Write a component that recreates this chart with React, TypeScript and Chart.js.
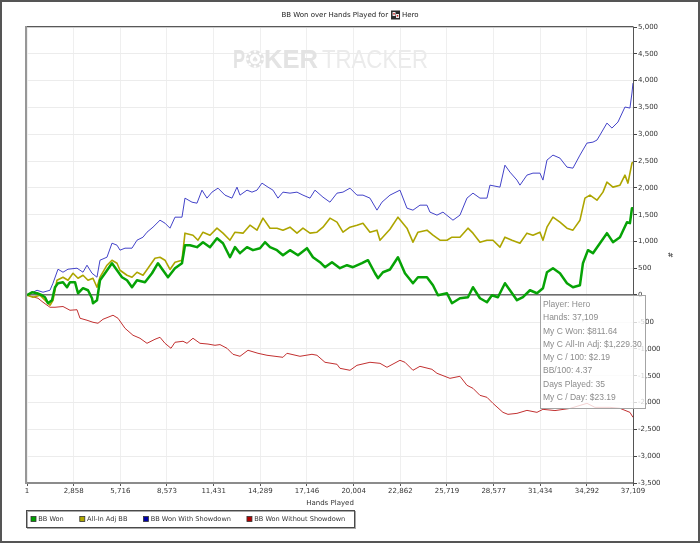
import { useEffect, useRef } from "react";
import { Chart, registerables } from "chart.js";

Chart.register(...registerables);

const FONT = "DejaVu Sans";

const chartTitle = "BB Won over Hands Played for";
const playerName = "Hero";
const xAxisTitle = "Hands Played";
const yAxisTitle = "#";

const xTickValues = [1, 2858, 5716, 8573, 11431, 14289, 17146, 20004, 22862, 25719, 28577, 31434, 34292, 37109];
const yMin = -3500;
const yMax = 5000;
const yStep = 500;

const seriesLabels = ["BB Won", "All-In Adj BB", "BB Won With Showdown", "BB Won Without Showdown"];
const seriesColors = ["#06a306", "#ada500", "#4343c9", "#c23030"];
const legendColors = ["#00a000", "#b0a800", "#0000a8", "#b00000"];
const seriesWidths = [2.5, 1.6, 1, 1];

const bbWonHands = [1, 307, 613, 919, 1103, 1287, 1532, 1715, 1899, 2205, 2450, 2634, 2940, 3124, 3430, 3736, 3981, 4042, 4287, 4471, 4777, 5205, 5512, 5818, 6124, 6430, 6737, 7226, 7655, 8022, 8328, 8634, 9063, 9492, 9675, 9981, 10410, 10777, 11206, 11635, 12002, 12431, 12737, 13043, 13472, 13839, 14267, 14574, 14880, 15308, 15675, 16104, 16594, 17145, 17512, 17941, 18247, 18676, 19165, 19594, 19961, 20512, 20880, 21309, 21492, 21798, 22227, 22717, 23145, 23635, 23941, 24492, 24860, 25166, 25717, 26023, 26513, 27003, 27309, 27738, 28166, 28472, 28839, 29268, 29574, 30003, 30370, 30799, 31228, 31595, 31840, 32208, 32636, 33065, 33432, 33861, 34044, 34351, 34657, 35085, 35514, 35881, 36310, 36739, 36922, 37045, 37109];
const bbWonValues = [0, 56, 37, 0, -37, -149, -93, 149, 224, 243, 149, 243, 243, 37, 131, 93, -56, -149, -93, 280, 410, 597, 466, 336, 280, 149, 280, 243, 410, 597, 466, 336, 504, 597, 933, 933, 896, 989, 896, 1063, 970, 709, 896, 784, 896, 840, 877, 989, 896, 840, 746, 840, 746, 877, 709, 616, 522, 616, 504, 560, 522, 597, 653, 410, 317, 429, 480, 709, 410, 224, 336, 336, 187, 0, 37, -149, -56, -37, 149, -56, -131, 0, -37, 224, 93, -93, -37, 93, 37, 131, 429, 504, 410, 224, 149, 187, 597, 840, 784, 970, 1157, 989, 1082, 1362, 1343, 1623, 1623];

const allInHands = [1, 368, 797, 1103, 1409, 1593, 1838, 2205, 2511, 2818, 3124, 3430, 3736, 4042, 4287, 4471, 4899, 5205, 5512, 5696, 6124, 6430, 6737, 7104, 7410, 7838, 8145, 8451, 8757, 9063, 9492, 9675, 10165, 10471, 10777, 11206, 11635, 12002, 12431, 12737, 13227, 13655, 14084, 14451, 14880, 15308, 15675, 16104, 16533, 16900, 17329, 17757, 18125, 18553, 18982, 19349, 19778, 20206, 20574, 21002, 21431, 21615, 22227, 22717, 23268, 23635, 23941, 24492, 24860, 25288, 25717, 26023, 26513, 27003, 27309, 27738, 28166, 28533, 28962, 29268, 29697, 30187, 30615, 30983, 31411, 31595, 31840, 32208, 32636, 33065, 33432, 33861, 34167, 34473, 34902, 35269, 35514, 35881, 36310, 36616, 36800, 37045, 37109];
const allInValues = [0, -37, 0, -93, -187, -93, 280, 336, 280, 410, 317, 373, 280, 317, 149, 336, 560, 653, 597, 466, 373, 336, 429, 373, 504, 690, 709, 653, 480, 616, 653, 1157, 1119, 1026, 1175, 1119, 1250, 1157, 1026, 1175, 1157, 1306, 1213, 1437, 1250, 1250, 1213, 1269, 1157, 1250, 1157, 1175, 1269, 1437, 1362, 1175, 1269, 1306, 1343, 1175, 1213, 1026, 1230, 1455, 1250, 989, 1175, 1213, 1119, 1026, 1026, 1082, 1082, 1250, 1157, 989, 1026, 1026, 896, 1082, 1026, 970, 1157, 1119, 1175, 1026, 1269, 1455, 1362, 1250, 1213, 1399, 1810, 1866, 1772, 1922, 2108, 2015, 2052, 2239, 2090, 2463, 2481];

const showdownHands = [1, 613, 981, 1409, 1593, 1899, 2205, 2511, 3063, 3430, 3675, 3981, 4287, 4471, 4899, 5205, 5512, 5696, 6002, 6430, 6737, 7104, 7349, 7716, 8145, 8451, 8757, 9063, 9492, 9675, 10104, 10410, 10716, 11022, 11329, 11696, 12124, 12553, 12859, 13043, 13472, 13778, 14084, 14390, 14757, 15063, 15369, 15675, 16104, 16533, 16900, 17329, 17635, 18125, 18553, 18982, 19349, 19778, 20206, 20574, 21002, 21431, 21737, 22227, 22839, 23268, 23635, 24064, 24492, 24676, 25105, 25472, 26084, 26513, 26942, 27309, 27738, 28166, 28350, 28962, 29268, 29574, 30003, 30187, 30615, 30983, 31411, 31595, 31840, 32208, 32636, 33065, 33432, 33861, 34289, 34657, 34902, 35085, 35514, 35820, 36188, 36616, 36922, 37045, 37109];
const showdownValues = [0, 93, 56, 93, 224, 485, 429, 485, 504, 429, 560, 410, 336, 653, 709, 970, 933, 840, 877, 877, 1026, 1082, 1175, 1269, 1399, 1343, 1250, 1455, 1455, 1810, 1735, 1716, 1959, 1810, 1922, 1996, 1866, 1810, 2015, 1866, 1959, 1922, 1959, 2090, 2015, 1959, 1810, 1922, 1903, 1922, 1866, 1810, 1959, 1828, 1735, 1903, 1922, 1996, 1866, 1866, 1810, 1586, 1735, 1866, 1959, 1623, 1586, 1679, 1679, 1549, 1493, 1549, 1399, 1493, 1810, 1903, 1810, 1810, 2052, 2015, 2425, 2295, 2146, 2052, 2239, 2276, 2276, 2146, 2519, 2612, 2556, 2388, 2369, 2612, 2836, 2854, 2892, 2985, 3209, 3116, 3228, 3508, 3489, 3769, 3955];

const noShowdownHands = [1, 674, 981, 1409, 1715, 2205, 2634, 3063, 3246, 3675, 4042, 4348, 4654, 5267, 5573, 6002, 6491, 6920, 7349, 7838, 8145, 8451, 8818, 9063, 9553, 9798, 10165, 10594, 11084, 11512, 11818, 12247, 12614, 13043, 13533, 14145, 14696, 15675, 15920, 16716, 17451, 17757, 18247, 18982, 19165, 19778, 20206, 21002, 21615, 22043, 22839, 23145, 23635, 24064, 24798, 25105, 25901, 26513, 26942, 27309, 27738, 28166, 28533, 29145, 29452, 30003, 30615, 31228, 31595, 32330, 33248, 34289, 34779, 35698, 36310, 36922, 37109];
const noShowdownValues = [0, -56, -131, -224, -224, -210, -280, -270, -429, -466, -504, -522, -448, -373, -429, -616, -746, -802, -896, -821, -784, -896, -989, -877, -858, -896, -802, -896, -910, -933, -920, -989, -1101, -1138, -1026, -1082, -1119, -1157, -1082, -1138, -1101, -1119, -1250, -1287, -1362, -1399, -1306, -1250, -1269, -1343, -1213, -1250, -1399, -1325, -1381, -1455, -1549, -1511, -1679, -1735, -1866, -1903, -2015, -2183, -2220, -2202, -2146, -2183, -2127, -2150, -2110, -2015, -2090, -2090, -2108, -2183, -2276];

const tooltipLines = [
  "Player: Hero",
  "Hands: 37,109",
  "My C Won: $811.64",
  "My C All-In Adj: $1,229.30",
  "My C / 100: $2.19",
  "BB/100: 4.37",
  "Days Played: 35",
  "My C / Day: $23.19",
];

function toPoints(h: number[], v: number[]) {
  const n = Math.min(h.length, v.length);
  const out: { x: number; y: number }[] = [];
  for (let i = 0; i < n; i++) out.push({ x: h[i], y: v[i] });
  return out;
}

function fmt(v: number | string) {
  return Number(v).toLocaleString("en-US");
}

function drawScaledText(ctx: CanvasRenderingContext2D, text: string, x: number, baseline: number, targetWidth: number) {
  const w = ctx.measureText(text).width;
  ctx.save();
  ctx.translate(x, baseline);
  ctx.scale(targetWidth / w, 1);
  ctx.fillText(text, 0, 0);
  ctx.restore();
}

const decorPlugin = {
  id: "decor",
  beforeDraw(chart: any) {
    const ctx: CanvasRenderingContext2D = chart.ctx;
    ctx.save();
    ctx.fillStyle = "#ffffff";
    ctx.fillRect(0, 0, chart.width, chart.height);
    ctx.restore();
  },
  beforeDatasetsDraw(chart: any) {
    const ctx: CanvasRenderingContext2D = chart.ctx;
    ctx.save();
    ctx.textBaseline = "alphabetic";
    ctx.textAlign = "left";
    const base = 68;
    ctx.fillStyle = "#e3e3e3";
    ctx.font = `bold 25px "Liberation Sans"`;
    drawScaledText(ctx, "P", 233, base, 12);
    const cx = 255, cy = 59, r = 9;
    ctx.beginPath();
    ctx.arc(cx, cy, r, 0, Math.PI * 2);
    ctx.fill();
    ctx.fillStyle = "#ffffff";
    for (let i = 0; i < 8; i++) {
      const a = (i * Math.PI) / 4;
      ctx.beginPath();
      ctx.arc(cx + Math.cos(a) * (r - 1.5), cy + Math.sin(a) * (r - 1.5), 1.3, 0, Math.PI * 2);
      ctx.fill();
    }
    ctx.beginPath();
    ctx.arc(cx, cy, 5.2, 0, Math.PI * 2);
    ctx.fill();
    ctx.fillStyle = "#e3e3e3";
    ctx.font = `8px "DejaVu Sans"`;
    ctx.textAlign = "center";
    ctx.textBaseline = "middle";
    ctx.fillText("\u2660", cx, cy + 0.5);
    ctx.textAlign = "left";
    ctx.textBaseline = "alphabetic";
    ctx.font = `bold 25px "Liberation Sans"`;
    drawScaledText(ctx, "KER", 264, base, 54);
    ctx.fillStyle = "#ebebeb";
    ctx.font = `25px "Liberation Sans"`;
    drawScaledText(ctx, "TRACKER", 322, base, 106);
    ctx.restore();
  },
  afterDraw(chart: any) {
    const ctx: CanvasRenderingContext2D = chart.ctx;
    const area = chart.chartArea;
    const xs = chart.scales.x;
    const ys = chart.scales.y;
    ctx.save();

    // plot top and left borders
    ctx.fillStyle = "#585858";
    ctx.fillRect(area.left - 2, area.top - 1, area.right - area.left + 2.5, 1.2);
    ctx.fillStyle = "#979797";
    ctx.fillRect(area.left - 2, area.top - 1, 2, area.bottom - area.top + 2);

    // title
    ctx.font = `7px "${FONT}"`;
    ctx.fillStyle = "#222";
    ctx.textBaseline = "middle";
    ctx.textAlign = "left";
    const w1 = ctx.measureText(chartTitle).width;
    const w2 = ctx.measureText(playerName).width;
    const iconSize = 9;
    const total = w1 + 3 + iconSize + 2 + w2;
    let tx = chart.width / 2 - total / 2;
    const ty = 15;
    ctx.fillText(chartTitle, tx, ty);
    tx += w1 + 3;
    ctx.fillStyle = "#2b2b2b";
    ctx.fillRect(tx, ty - 4.5, iconSize, iconSize);
    ctx.fillStyle = "#f2f2f2";
    ctx.fillRect(tx + 1.5, ty - 3, 3, 4);
    ctx.fillRect(tx + 5, ty - 1, 3, 4);
    ctx.fillStyle = "#d02020";
    ctx.fillRect(tx + 2.3, ty - 2, 1.4, 1.6);
    ctx.fillRect(tx + 5.8, ty, 1.4, 1.6);
    tx += iconSize + 2;
    ctx.fillStyle = "#222";
    ctx.fillText(playerName, tx, ty);

    // legend
    const lx = 26.5, ly = 510.5, lw = 328, lh = 17;
    ctx.fillStyle = "#ffffff";
    ctx.fillRect(lx, ly, lw, lh);
    ctx.strokeStyle = "#a8a8a8";
    ctx.lineWidth = 1;
    ctx.strokeRect(lx + 1, ly + 1, lw, lh);
    ctx.strokeStyle = "#4a4a4a";
    ctx.strokeRect(lx, ly, lw, lh);
    ctx.font = `6.6px "${FONT}"`;
    ctx.textBaseline = "middle";
    let ix = 31;
    const iy = 519;
    chart.data.datasets.forEach((ds: any, i: number) => {
      ctx.fillStyle = legendColors[i];
      ctx.fillRect(ix, iy - 2.5, 5, 5);
      ctx.strokeStyle = "#333";
      ctx.lineWidth = 0.8;
      ctx.strokeRect(ix, iy - 2.5, 5, 5);
      ctx.fillStyle = "#333";
      ctx.fillText(ds.label, ix + 7.3, iy);
      ix += 7.3 + ctx.measureText(ds.label).width + 16;
    });

    // static hover info box
    const lastHand = xTickValues[xTickValues.length - 1];
    const bx = Math.round(xs.getPixelForValue(lastHand)) - 93 + 0.5;
    const by = Math.round(ys.getPixelForValue(0)) + 0.5;
    const bw = 105, bh = 113;
    ctx.fillStyle = "rgba(255,255,255,0.78)";
    ctx.fillRect(bx, by, bw, bh);
    ctx.strokeStyle = "#a4a4a4";
    ctx.lineWidth = 1;
    ctx.strokeRect(bx, by, bw, bh);
    ctx.font = `8.5px "Liberation Sans"`;
    ctx.fillStyle = "#8c8c8c";
    ctx.textBaseline = "middle";
    tooltipLines.forEach((t, i) => {
      ctx.fillText(t, bx + 2.5, by + 9 + i * 13.33);
    });

    // outer frame
    ctx.strokeStyle = "#555";
    ctx.lineWidth = 2;
    ctx.strokeRect(1, 1, chart.width - 2, chart.height - 2);
    ctx.restore();
  },
};

export default function App() {
  const ref = useRef<HTMLCanvasElement>(null);
  useEffect(() => {
    document.body.style.margin = "0";
    const canvas = ref.current;
    if (!canvas) return;
    const tickFont = { family: FONT, size: 7 };
    const sets = [
      toPoints(bbWonHands, bbWonValues),
      toPoints(allInHands, allInValues),
      toPoints(showdownHands, showdownValues),
      toPoints(noShowdownHands, noShowdownValues),
    ];
    const chart = new Chart(canvas, {
      type: "line",
      data: {
        datasets: sets.map((data, i) => ({
          label: seriesLabels[i],
          data,
          borderColor: seriesColors[i],
          backgroundColor: seriesColors[i],
          borderWidth: seriesWidths[i],
          pointRadius: 0,
          tension: 0,
          fill: false,
          borderJoinStyle: "round" as const,
        })),
      },
      options: {
        animation: false,
        responsive: false,
        devicePixelRatio: 1,
        layout: { padding: { top: 27, left: 27, right: 17, bottom: 30 } },
        plugins: {
          legend: { display: false },
          tooltip: { enabled: false },
          title: { display: false },
        },
        scales: {
          x: {
            type: "linear",
            min: xTickValues[0],
            max: xTickValues[xTickValues.length - 1],
            afterBuildTicks: (s: any) => {
              s.ticks = xTickValues.map((value) => ({ value }));
            },
            afterFit: (s: any) => {
              s.height = 30;
            },
            grid: { color: "#efefef", tickColor: "#555", tickLength: 3, lineWidth: 1 },
            border: { color: "#8c8c8c", width: 2 },
            ticks: {
              font: tickFont,
              color: "#333",
              padding: 1,
              maxRotation: 0,
              autoSkip: false,
              callback: (v: any) => fmt(v),
            },
            title: {
              display: true,
              text: xAxisTitle,
              font: tickFont,
              color: "#333",
              padding: { top: 0, bottom: 6 },
            },
          },
          y: {
            position: "right",
            min: yMin,
            max: yMax,
            afterFit: (s: any) => {
              s.width = 50;
            },
            grid: {
              color: (c: any) => (c.tick && c.tick.value === 0 ? "#6e6e6e" : "#ececec"),
              lineWidth: (c: any) => (c.tick && c.tick.value === 0 ? 1.5 : 1),
              tickColor: "#444",
              tickLength: 4,
            },
            border: { color: "#555", width: 1 },
            ticks: {
              stepSize: yStep,
              font: tickFont,
              color: "#333",
              padding: 1,
              autoSkip: false,
              callback: (v: any) => fmt(v),
            },
            title: {
              display: true,
              text: yAxisTitle,
              font: tickFont,
              color: "#333",
              padding: { top: 9, bottom: 0 },
            },
          },
        },
      },
      plugins: [decorPlugin],
    });
    return () => chart.destroy();
  }, []);
  return (
    <div style={{ width: 700, height: 543 }}>
      <canvas ref={ref} width={700} height={543} style={{ display: "block" }} />
    </div>
  );
}
